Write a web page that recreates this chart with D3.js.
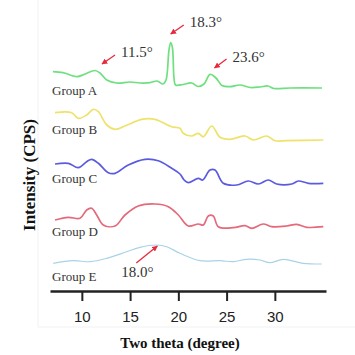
<!DOCTYPE html>
<html>
<head>
<meta charset="utf-8">
<script src="https://cdn.jsdelivr.net/npm/d3@7"></script>
<style>
  html, body { margin: 0; padding: 0; background: #fff; }
  svg { display: block; }
</style>
</head>
<body>
<svg id="chart" width="355" height="355"></svg>
<script>
// ---------------- DATA ----------------
const groupNames = ["Group A", "Group B", "Group C", "Group D", "Group E"];
const groupOffsets = [200, 150, 105, 60, 25];   // vertical stacking offset (CPS)

const thetaA = [7.0, 8.05, 9.5, 10.33, 11.36, 11.88, 12.58, 13.61, 14.99, 16.03, 17.06, 17.79, 18.41, 18.72, 19.03, 19.21, 19.39, 19.55, 19.71, 20.48, 21.38, 22.04, 22.66, 23.28, 23.9, 24.52, 25.35, 26.39, 27.43, 28.46, 29.29, 29.91, 31.57, 34.89];
const intA   = [19.3, 18.3, 14.3, 17, 20.5, 18, 11, 8, 9, 8, 8.3, 10, 7, 11, 41, 48.5, 43, 13, 6, 6.5, 8, 4.5, 7, 16.7, 13, 5.5, 4.3, 6, 3.5, 4, 5, 2.5, 3, 3];

const thetaB = [7.22, 8.95, 9.63, 10.5, 11.19, 11.71, 12.58, 13.44, 14.47, 16.2, 17.58, 19.31, 20.17, 20.51, 21.38, 22.07, 22.59, 23.46, 24.32, 25.35, 26.91, 27.77, 29.16, 30.02, 31.23, 35.02];
const intB   = [28.3, 28.3, 22.7, 26, 31.7, 29.3, 16, 11.7, 15, 21.7, 21.7, 14.3, 12.7, 7.7, 5, 7.7, 4.3, 15, 3.7, 1.7, 5, 1, 5, 0.3, 0.3, 1];

const thetaC = [7.22, 8.6, 9.63, 10.5, 11.02, 11.71, 12.74, 13.44, 14.81, 16.54, 17.92, 19.31, 20.17, 20.6, 21.03, 22.07, 22.52, 23.28, 23.8, 24.66, 26.05, 27.25, 28.29, 29.32, 30.19, 31.75, 32.43, 33.47, 35.02];
const intC   = [22, 22.7, 18.3, 24.3, 26.7, 22.7, 13.3, 12.7, 21, 26.7, 25.3, 17.7, 12, 6, 3.3, 7.7, 6, 16, 16, 2.7, 1, 5, 2, 6, 2, 2, 5, 2.7, 2.7];

const thetaD = [7.22, 8.6, 9.81, 10.5, 11.02, 11.54, 12.22, 13.44, 14.47, 15.85, 17.58, 18.96, 20.0, 21.03, 22.07, 22.59, 23.1, 23.62, 24.14, 25.69, 26.91, 27.6, 28.8, 29.67, 31.23, 32.27, 33.3, 35.02];
const intD   = [11, 13.7, 12.7, 21, 22.7, 16, 6, 5, 16, 25, 27, 24.3, 16, 5, 7, 6, 15, 15, 4.3, 3.3, 5.3, 2.7, 7, 4.3, 5, 6.7, 3.7, 4.3];

const thetaE = [7.04, 9.11, 10.85, 12.58, 14.65, 16.03, 17.76, 18.79, 20.17, 22.24, 24.32, 25.69, 27.08, 28.46, 29.5, 30.88, 32.95, 34.86];
const intE   = [2.7, 5.3, 4.3, 7.7, 14.3, 18.7, 21, 19.3, 12.7, 5.3, 5.3, 4.3, 6.7, 6, 3.3, 6.7, 2.7, 2];

const xTicks = [10, 15, 20, 25, 30];
const xTitle = "Two theta (degree)";
const yTitle = "Intensity (CPS)";

// peak annotations: label, group index, arrow tip (theta, intensity above group offset)
const annLabels = ["11.5°", "18.3°", "23.6°", "18.0°"];
const annGroup  = [0, 0, 0, 4];
const annTheta  = [12.09, 19.21, 23.75, 17.82];
const annInt    = [27, 57, 23, 20];

// ---------------- LAYOUT / STYLE ----------------
const colors = ["#6fe07f", "#eee36a", "#5b5be0", "#e4697a", "#a9d2e6"];
const labelDy = [-1, -12, -8, 0, 10];           // group label shift (px) from baseline
const annStyle = [
  {tail: [13, -9], text: [19, -12]},
  {tail: [13, -9], text: [19, -12]},
  {tail: [12, -9], text: [18, -11]},
  {tail: [-21, 17], text: [-36, 26]}
];

const svg = d3.select("#chart");
const x = d3.scaleLinear().domain([6.7, 35.3]).range([50, 326]);
const y = d3.scaleLinear().domain([0, 260]).range([291, 31]);

// faint frame lines
svg.append("line").attr("x1", 38).attr("x2", 38).attr("y1", 0).attr("y2", 327)
  .attr("stroke", "#f1f1f1").attr("stroke-width", 1);
svg.append("line").attr("x1", 38).attr("x2", 355).attr("y1", 327).attr("y2", 327)
  .attr("stroke", "#f1f1f1").attr("stroke-width", 1);

const series = [
  [thetaA, intA], [thetaB, intB], [thetaC, intC], [thetaD, intD], [thetaE, intE]
];

const line = d3.line()
  .x(d => x(d[0]))
  .y(d => y(d[1]))
  .curve(d3.curveCatmullRom.alpha(0.5));

series.forEach((s, i) => {
  const pts = s[0].map((t, k) => [t, s[1][k] + groupOffsets[i]]);
  svg.append("path")
    .datum(pts)
    .attr("fill", "none")
    .attr("stroke", colors[i])
    .attr("stroke-width", i === 4 ? 1.2 : 1.7)
    .attr("stroke-linejoin", "round")
    .attr("d", line);

  svg.append("text")
    .attr("x", 52)
    .attr("y", y(groupOffsets[i]) + labelDy[i] + 4.5)
    .attr("font-family", "'Liberation Serif', 'Times New Roman', serif")
    .attr("font-size", 13)
    .attr("fill", "#333")
    .text(groupNames[i]);
});

// arrows
const defs = svg.append("defs");
defs.append("marker")
  .attr("id", "arrow")
  .attr("viewBox", "0 0 10 10")
  .attr("refX", 9).attr("refY", 5)
  .attr("markerWidth", 4.5).attr("markerHeight", 4.5)
  .attr("markerUnits", "strokeWidth")
  .attr("orient", "auto")
  .append("path")
  .attr("d", "M0,0 L10,5 L0,10 z")
  .attr("fill", "#e8283c");

annLabels.forEach((lab, i) => {
  const tx = x(annTheta[i]);
  const ty = y(annInt[i] + groupOffsets[annGroup[i]]);
  const st = annStyle[i];
  svg.append("line")
    .attr("x1", tx + st.tail[0]).attr("y1", ty + st.tail[1])
    .attr("x2", tx).attr("y2", ty)
    .attr("stroke", "#e8283c")
    .attr("stroke-width", 1.3)
    .attr("marker-end", "url(#arrow)");
  svg.append("text")
    .attr("x", tx + st.text[0])
    .attr("y", ty + st.text[1] + 5)
    .attr("font-family", "'Liberation Serif', 'Times New Roman', serif")
    .attr("font-size", 15)
    .attr("fill", "#333")
    .text(lab);
});

// x axis
const axis = d3.axisBottom(x)
  .tickValues(xTicks)
  .tickSizeInner(10)
  .tickSizeOuter(0)
  .tickFormat(d3.format("d"));

const gx = svg.append("g")
  .attr("transform", "translate(0,291)")
  .call(axis);
gx.select(".domain").attr("stroke", "#222").attr("stroke-width", 2.6);
gx.selectAll(".tick line").attr("stroke", "#222").attr("stroke-width", 2);
gx.selectAll(".tick text")
  .attr("y", 26).attr("dy", "0.35em")
  .attr("font-family", "'Liberation Sans', Arial, sans-serif")
  .attr("font-size", 15)
  .attr("fill", "#222");

svg.append("text")
  .attr("x", 180).attr("y", 348)
  .attr("text-anchor", "middle")
  .attr("font-family", "'Liberation Serif', 'Times New Roman', serif")
  .attr("font-weight", "bold")
  .attr("font-size", 15)
  .attr("fill", "#111")
  .text(xTitle);

svg.append("text")
  .attr("transform", "translate(35,175) rotate(-90)")
  .attr("text-anchor", "middle")
  .attr("font-family", "'Liberation Serif', 'Times New Roman', serif")
  .attr("font-weight", "bold")
  .attr("font-size", 17)
  .attr("fill", "#111")
  .text(yTitle);
</script>
</body>
</html>
